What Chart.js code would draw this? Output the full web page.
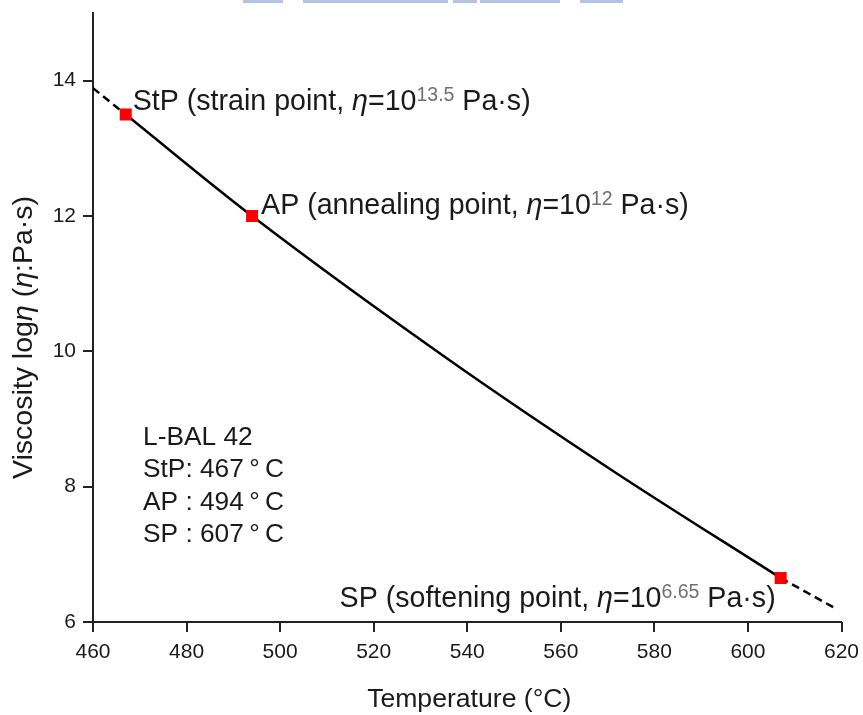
<!DOCTYPE html>
<html>
<head>
<meta charset="utf-8">
<script src="https://cdn.jsdelivr.net/npm/chart.js@4.4.1/dist/chart.umd.min.js"></script>
<style>
  body { margin: 0; background: #fff; }
  canvas { display: block; }
</style>
</head>
<body>
<canvas id="viscChart" width="863" height="715"></canvas>
<script>
// characteristic points
const keyNames = ['StP', 'AP', 'SP'];
const keyTemps = [467, 494, 607];
const keyLogVisc = [13.5, 12.0, 6.65];
const keyLongNames = ['strain point', 'annealing point', 'softening point'];
const keyExponents = ['13.5', '12', '6.65'];

// fitted viscosity curve between StP and SP
const curveTemps = [467, 494, 536, 571, 607];
const curveLogVisc = [13.5, 12.0, 9.88, 8.24, 6.65];

// dashed extrapolation at both ends
const lowExtTemps = [460, 467];
const lowExtLogVisc = [13.89, 13.5];
const highExtTemps = [607, 619];
const highExtLogVisc = [6.65, 6.19];

const glassName = 'L-BAL 42';

const axisColor = '#222';
const textColor = '#1a1a1a';
const FONT = '"Liberation Sans", Arial, sans-serif';

const toPoints = (xs, ys) => xs.map((x, i) => ({ x: x, y: ys[i] }));

// draws a run of text pieces with different fonts side by side
function drawRich(ctx, x, y, parts, align) {
    let total = 0;
    parts.forEach(p => { ctx.font = p.font; total += ctx.measureText(p.t).width; });
    let cx = align === 'right' ? x - total : x;
    parts.forEach(p => {
        ctx.font = p.font;
        ctx.fillStyle = p.color || textColor;
        ctx.fillText(p.t, cx, y - (p.dy || 0));
        cx += ctx.measureText(p.t).width;
    });
}

const decorPlugin = {
    id: 'decor',
    afterDraw(chart) {
        const ctx = chart.ctx;
        const xs = chart.scales.x;
        const ys = chart.scales.y;
        ctx.save();

        // tick marks, major and minor, pointing outward
        ctx.strokeStyle = axisColor;
        ctx.lineWidth = 2;
        xs.ticks.forEach(t => {
            const px = Math.round(xs.getPixelForValue(t.value));
            const len = t.value % 20 === 0 ? 10 : 6;
            ctx.beginPath();
            ctx.moveTo(px, xs.top);
            ctx.lineTo(px, xs.top + len);
            ctx.stroke();
        });
        ys.ticks.forEach(t => {
            const py = Math.round(ys.getPixelForValue(t.value));
            const len = t.value % 2 === 0 ? 10 : 6;
            ctx.beginPath();
            ctx.moveTo(ys.right, py);
            ctx.lineTo(ys.right - len, py);
            ctx.stroke();
        });

        ctx.textBaseline = 'alphabetic';
        ctx.textAlign = 'left';
        const big = '28.6px ' + FONT;
        const bigIt = 'italic 28.6px ' + FONT;
        const sup = '19.5px ' + FONT;

        // point annotations
        keyNames.forEach((name, i) => {
            const px = xs.getPixelForValue(keyTemps[i]);
            const py = ys.getPixelForValue(keyLogVisc[i]);
            const parts = [
                { t: name + ' (' + keyLongNames[i] + ', ', font: big },
                { t: 'η', font: bigIt },
                { t: '=10', font: big },
                { t: keyExponents[i], font: sup, color: '#707070', dy: 9 },
                { t: ' Pa·s)', font: big }
            ];
            if (i === 0) drawRich(ctx, px + 7, py - 5, parts, 'left');
            else if (i === 1) drawRich(ctx, px + 9, py - 2, parts, 'left');
            else drawRich(ctx, px - 5, py + 29, parts, 'right');
        });

        // glass info block
        ctx.font = '26.3px ' + FONT;
        ctx.fillStyle = textColor;
        const info = [glassName,
            'StP: ' + keyTemps[0] + '\u2009°\u2009C',
            'AP : ' + keyTemps[1] + '\u2009°\u2009C',
            'SP : ' + keyTemps[2] + '\u2009°\u2009C'];
        info.forEach((line, i) => ctx.fillText(line, 143, 445 + i * 32.3));

        // axis titles
        ctx.font = '26.6px ' + FONT;
        ctx.textAlign = 'center';
        ctx.fillText('Temperature (°C)', (xs.left + xs.right) / 2 + 2, 707);

        ctx.save();
        ctx.translate(32, (ys.top + ys.bottom) / 2 + 20);
        ctx.rotate(-Math.PI / 2);
        const tf = '28.5px ' + FONT;
        const tfi = 'italic 28.5px ' + FONT;
        const titleParts = [
            { t: 'Viscosity log', font: tf },
            { t: 'η', font: tfi },
            { t: ' (', font: tf },
            { t: 'η', font: tfi },
            { t: ':Pa·s)', font: tf }
        ];
        ctx.textAlign = 'left';
        let w = 0;
        titleParts.forEach(p => { ctx.font = p.font; w += ctx.measureText(p.t).width; });
        drawRich(ctx, -w / 2, 0, titleParts, 'left');
        ctx.restore();

        // faint strip left over from the page above the figure
        ctx.fillStyle = '#b4c3e2';
        [[243, 40], [303, 145], [453, 24], [480, 80], [580, 43]].forEach(s => ctx.fillRect(s[0], 0, s[1], 3));

        ctx.restore();
    }
};

const ctx = document.getElementById('viscChart').getContext('2d');
new Chart(ctx, {
    type: 'line',
    data: {
        datasets: [
            {
                label: 'key points',
                data: toPoints(keyTemps, keyLogVisc),
                showLine: false,
                pointStyle: 'rect',
                pointRadius: 8.5,
                pointBackgroundColor: '#ff0000',
                pointBorderColor: '#ff0000',
                pointBorderWidth: 0
            },
            {
                label: 'fit',
                data: toPoints(curveTemps, curveLogVisc),
                borderColor: '#000',
                borderWidth: 2.5,
                pointRadius: 0,
                cubicInterpolationMode: 'monotone'
            },
            {
                label: 'low extrapolation',
                data: toPoints(lowExtTemps, lowExtLogVisc),
                borderColor: '#000',
                borderWidth: 2.5,
                borderDash: [8, 5],
                pointRadius: 0
            },
            {
                label: 'high extrapolation',
                data: toPoints(highExtTemps, highExtLogVisc),
                borderColor: '#000',
                borderWidth: 2.5,
                borderDash: [8, 5],
                pointRadius: 0
            }
        ]
    },
    options: {
        responsive: false,
        animation: false,
        devicePixelRatio: 1,
        layout: { padding: { left: 0, right: 21.5, top: 13, bottom: 0 } },
        plugins: { legend: { display: false }, tooltip: { enabled: false } },
        scales: {
            x: {
                type: 'linear',
                min: 460,
                max: 620,
                grid: { display: false, drawTicks: false },
                border: { display: true, color: axisColor, width: 2 },
                ticks: {
                    stepSize: 10,
                    padding: 18,
                    color: textColor,
                    font: { family: FONT, size: 21 },
                    maxRotation: 0,
                    autoSkip: false,
                    callback: v => (v % 20 === 0 ? String(v) : null)
                },
                afterFit: s => {
                    s.height = 93;
                    s.paddingLeft = 0;
                    s.paddingRight = 0;
                }
            },
            y: {
                type: 'linear',
                min: 6,
                max: 15,
                grid: { display: false, drawTicks: false },
                border: { display: true, color: axisColor, width: 2 },
                ticks: {
                    stepSize: 1,
                    padding: 17,
                    color: textColor,
                    font: { family: FONT, size: 21 },
                    autoSkip: false,
                    callback: v => (v % 2 === 0 ? String(v) : null)
                },
                afterFit: s => {
                    s.width = 93;
                    s.paddingTop = 0;
                    s.paddingBottom = 0;
                }
            }
        }
    },
    plugins: [decorPlugin]
});
</script>
</body>
</html>
